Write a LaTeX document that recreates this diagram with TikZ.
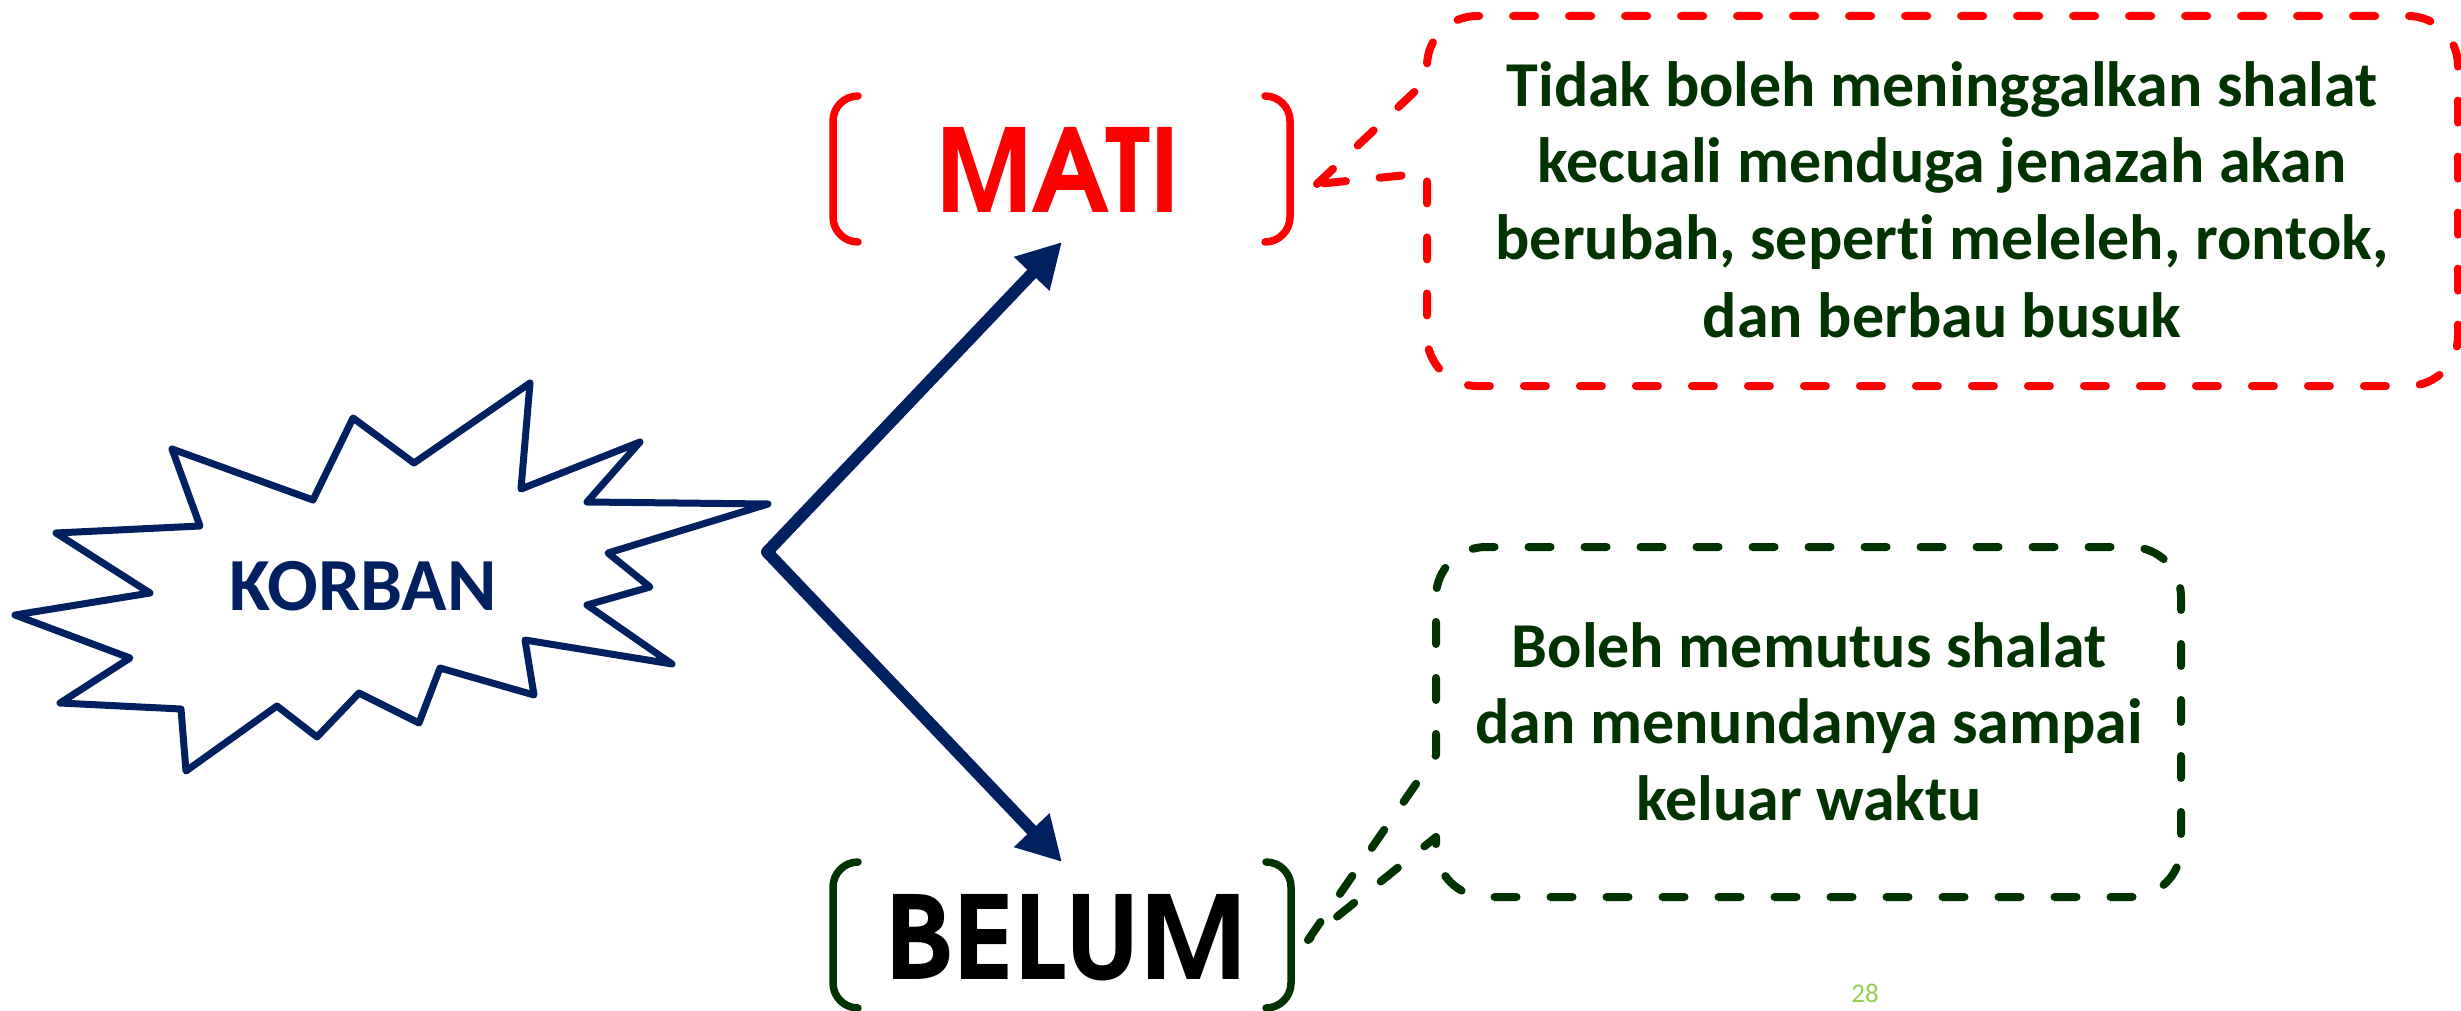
\documentclass[tikz,border=0pt]{standalone}
\usepackage{fontspec}
\usepackage{graphicx}
\setmainfont{Carlito}[Ligatures=NoCommon]
% geometric face for the two headwords
\IfFontExistsTF{texgyreadventor-bold.otf}
  {\newfontfamily\gothicfont{texgyreadventor}[Extension=.otf,
     UprightFont=*-regular, BoldFont=*-bold]}
  {\newfontfamily\gothicfont{Poppins}}
\usetikzlibrary{arrows.meta}
\definecolor{navy}{HTML}{002060}
\definecolor{alarmred}{HTML}{FF0000}
\definecolor{darkleaf}{HTML}{003300}
\definecolor{lime}{HTML}{92D050}

\begin{document}
\begin{tikzpicture}[x=1pt,y=-1pt,
  burst/.style={draw=navy, line width=7pt, line join=round, fill=white},
  branch/.style={draw=navy, line width=12pt, line join=round,
    {Triangle[length=44pt,width=46pt]}-{Triangle[length=44pt,width=46pt]}},
  bracketline/.style={line width=7.5pt, line cap=round},
  callout/.style={line width=8pt, line cap=round, line join=round,
    dash pattern=on 22pt off 34pt},
  boxtext/.style={font=\bfseries\fontsize{64}{77}\selectfont,
    text=darkleaf, inner sep=0pt, anchor=base},
  bigword/.style={inner sep=0pt, anchor=base},
]
% canvas
\fill[white] (0,0) rectangle (2461,1011);
\useasboundingbox (0,0) rectangle (2461,1011);

% the explosion around KORBAN
\draw[burst] (530,383) -- (414,463) -- (353,418) -- (313,500) -- (172,449)
  -- (200,526) -- (56,533) -- (150,593) -- (15,615) -- (130,658) -- (60,703)
  -- (181,709) -- (186,771) -- (277,706) -- (317,737) -- (359,693)
  -- (419,723) -- (440,668) -- (534,695) -- (525,640) -- (672,664)
  -- (587,605) -- (650,587) -- (608,553) -- (768,504) -- (587,502)
  -- (640,442) -- (521,489) -- cycle;
\node[inner sep=0pt, anchor=base, text=navy,
  font=\bfseries\fontsize{75}{75}\selectfont] (korban) at (363,610) {KORBAN};

% the two outcomes
\node[bigword, text=alarmred] (mati) at (1058,213)
  {\resizebox{244pt}{85pt}{\gothicfont\bfseries MATI}};
\node[bigword, text=black] (belum) at (1066,979)
  {\resizebox{360pt}{85pt}{\gothicfont\bfseries BELUM}};

% brackets round MATI
\draw[bracketline, alarmred]
  (858,96) .. controls (844.2,96) and (833,107.2) .. (833,121) -- (833,217)
  .. controls (833,230.8) and (844.2,242) .. (858,242);
\draw[bracketline, alarmred]
  (1265,96) .. controls (1278.8,96) and (1290,107.2) .. (1290,121) -- (1290,217)
  .. controls (1290,230.8) and (1278.8,242) .. (1265,242);
% brackets round BELUM
\draw[bracketline, darkleaf]
  (858,862) .. controls (844.2,862) and (833,873.2) .. (833,887) -- (833,983)
  .. controls (833,996.8) and (844.2,1008) .. (858,1008);
\draw[bracketline, darkleaf]
  (1266,862) .. controls (1279.8,862) and (1291,873.2) .. (1291,887) -- (1291,983)
  .. controls (1291,996.8) and (1279.8,1008) .. (1266,1008);

% branching arrow
\coordinate (fork) at (767,552);
\coordinate (matiTip) at (1062,242);
\coordinate (belumTip) at (1062,862);
\draw[branch] (matiTip) -- (fork) -- (belumTip);

% note for MATI
\coordinate (matiNoteTip) at (1317,184);
\draw[callout, alarmred] (matiNoteTip) -- (1427,80) -- (1427,66)
  .. controls (1427,38.4) and (1449.4,16) .. (1477,16) -- (2408,16)
  .. controls (2435.6,16) and (2458,38.4) .. (2458,66) -- (2458,336)
  .. controls (2458,363.6) and (2435.6,386) .. (2408,386) -- (1477,386)
  .. controls (1449.4,386) and (1427,363.6) .. (1427,336) -- (1427,173)
  -- cycle;
\node[boxtext] (matiL1) at (1942,107) {Tidak boleh meninggalkan shalat};
\node[boxtext] (matiL2) at (1942,183) {kecuali menduga jenazah akan};
\node[boxtext] (matiL3) at (1942,260) {berubah, seperti meleleh, rontok,};
\node[boxtext] (matiL4) at (1942,337) {dan berbau busuk};

% note for BELUM
\coordinate (belumNoteTip) at (1308,940);
\draw[callout, darkleaf] (belumNoteTip) -- (1436,755) -- (1436,597)
  .. controls (1436,569.4) and (1458.4,547) .. (1486,547) -- (2131,547)
  .. controls (2158.6,547) and (2181,569.4) .. (2181,597) -- (2181,847)
  .. controls (2181,874.6) and (2158.6,897) .. (2131,897) -- (1486,897)
  .. controls (1458.4,897) and (1436,874.6) .. (1436,847) -- (1436,837)
  -- cycle;
\node[boxtext] (belumL1) at (1809,667) {Boleh memutus shalat};
\node[boxtext] (belumL2) at (1809,743) {dan menundanya sampai};
\node[boxtext] (belumL3) at (1809,820) {keluar waktu};

% page number
\node[inner sep=0pt, anchor=base, text=lime,
  font=\fontsize{27}{27}\selectfont] (pagenum) at (1865,1002) {28};
\end{tikzpicture}
\end{document}
